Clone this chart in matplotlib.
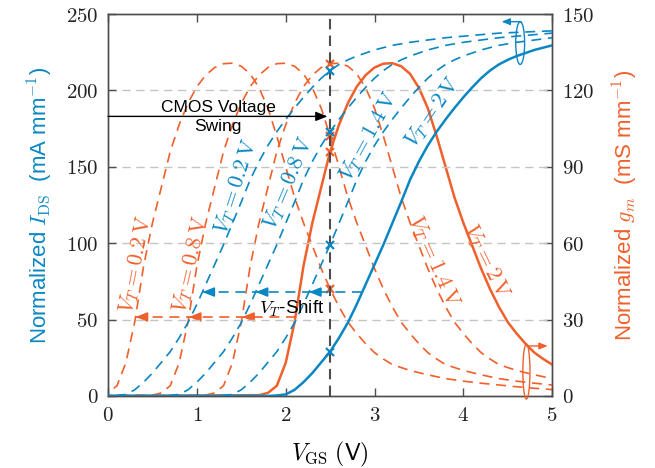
import numpy as np
import matplotlib
matplotlib.use("Agg")
import matplotlib.pyplot as plt
from matplotlib.patches import Ellipse

plt.rcParams['font.family'] = ['Liberation Sans', 'DejaVu Sans']
plt.rcParams['mathtext.fontset'] = 'cm'

BLUE = '#0A87C2'
ORANGE = '#F0602B'
GREY = '#4d4d4d'

# normalized device curves versus gate overdrive V_GS - V_T (V)
v_ov = [-2.0, -0.3, -0.2, -0.1, 0.0, 0.1, 0.2, 0.3, 0.4, 0.5, 0.6, 0.7, 0.8, 0.9,
        1.0, 1.1, 1.2, 1.3, 1.4, 1.5, 1.6, 1.7, 1.8, 1.9, 2.0, 2.1, 2.2, 2.3, 2.4,
        2.5, 2.6, 2.7, 2.8, 2.9, 3.0, 3.2, 3.4, 3.6, 3.8, 4.0, 4.2, 4.4, 4.6, 4.8]
i_ds = [0, 0, 0, 0.3, 1, 4, 9, 15, 22, 29, 38, 48, 60, 73,
        86, 99, 113, 127, 141.5, 153.5, 164, 173, 181, 188.5, 195.5, 202, 208, 213, 217,
        220, 222.5, 224.5, 226.5, 228, 229.5, 231.5, 233, 234.5, 235.5, 236.5, 237.5, 238, 238.5, 239]
g_m = [0, 0.3, 1.2, 4, 13, 29, 51, 68, 82, 96, 106.5, 115, 121.5, 126,
       129, 130.5, 130.7, 129.5, 126.5, 121, 113, 102, 90, 78, 68, 59, 50, 42, 35,
       29, 24.5, 20.5, 17, 14.5, 12.3, 10, 8.3, 6.8, 5.8, 5, 4.3, 3.6, 3, 2.5]

v_t = [0.2, 0.8, 1.4, 2.0]
v_swing = 2.5          # CMOS supply voltage
i_shift_level = 68     # mA/mm, level of the V_T-shift arrows on I_DS
gm_shift_level = 31    # mS/mm, level of the V_T-shift arrows on g_m

v_ov = np.array(v_ov)
i_ds = np.array(i_ds)
g_m = np.array(g_m)

fig = plt.figure(figsize=(6.55, 4.68), dpi=100)
ax = fig.add_axes([0.165, 0.154, 0.678, 0.816])
ax2 = ax.twinx()

dash = (0, (6, 4))
for vt in v_t:
    solid = vt == 2.0
    ax.plot(vt + v_ov, i_ds, color=BLUE, lw=1.8 if solid else 1.2,
            ls='-' if solid else dash, zorder=3)
    ax2.plot(vt + v_ov, g_m, color=ORANGE, lw=1.8 if solid else 1.2,
             ls='-' if solid else dash, zorder=3)
    # operating point at the CMOS supply voltage
    ax.plot(v_swing, np.interp(v_swing - vt, v_ov, i_ds), 'x', color=BLUE,
            ms=6, mew=1.6, zorder=5)
    ax2.plot(v_swing, np.interp(v_swing - vt, v_ov, g_m), 'x', color=ORANGE,
             ms=6, mew=1.6, zorder=5)

ax.set_xlim(0, 5)
ax.set_ylim(0, 250)
ax2.set_ylim(0, 150)

ax.axvline(v_swing, color=GREY, ls=(0, (5, 3)), lw=1.5, zorder=4)

# horizontal grid
for y in [50, 100, 150, 200]:
    ax.axhline(y, color='#c4c4c4', ls=(0, (6, 4)), lw=1.0, zorder=1)


# V_T-shift arrows: start where the V_T = 2 V curve crosses the level
def shift_arrows(axis, curve, level, color):
    rising = (v_ov > -1) & (v_ov <= v_ov[np.argmax(curve)])
    x_cross = [vt + np.interp(level, curve[rising], v_ov[rising]) for vt in v_t]
    axis.plot([min(x_cross), max(x_cross)], [level, level], color=color,
              ls=(0, (6, 4)), lw=1.2, zorder=4)
    for x in x_cross[:-1]:
        axis.annotate('', xy=(x, level), xytext=(x + 0.12, level),
                      arrowprops=dict(arrowstyle='-|>,head_length=0.7,head_width=0.28',
                                      color=color, lw=1.2, shrinkA=0, shrinkB=0),
                      zorder=4)


shift_arrows(ax, i_ds, i_shift_level, BLUE)
shift_arrows(ax2, g_m, gm_shift_level, ORANGE)
ax.text(2.07, 57, r'$V_T$-Shift', fontsize=13.5, ha='center', va='center', zorder=6)

# CMOS voltage swing
ax.annotate('', xy=(v_swing - 0.03, 183), xytext=(0, 183),
            arrowprops=dict(arrowstyle='-|>,head_length=0.7,head_width=0.28',
                            color='black', lw=1.0, shrinkA=0, shrinkB=0), zorder=6)
ax.text(1.24, 184, 'CMOS Voltage', fontsize=12.5, ha='center', va='bottom', zorder=6)
ax.text(1.24, 181, 'Swing', fontsize=12.5, ha='center', va='top', zorder=6)

# curve labels
blue_labels = [(1.44, 137, 72, '0.2'), (2.03, 139, 67, '0.8'),
               (2.94, 170, 61, '1.4'), (3.66, 186, 55, '2')]
for x, y, rot, txt in blue_labels:
    ax.text(x, y, r'$V_T = %s\,\mathrm{V}$' % txt, color=BLUE, fontsize=16,
            rotation=rot, ha='center', va='center', rotation_mode='anchor')
orange_labels = [(0.32, 86, 79, '0.2'), (0.93, 86, 77, '0.8'),
                 (3.66, 88, -66, '1.4'), (4.26, 88, -64, '2')]
for x, y, rot, txt in orange_labels:
    ax.text(x, y, r'$V_T = %s\,\mathrm{V}$' % txt, color=ORANGE, fontsize=16,
            rotation=rot, ha='center', va='center', rotation_mode='anchor')

# axis indicators
ax.add_patch(Ellipse((4.64, 231), 0.1, 28, fill=False, ec=BLUE, lw=1.0, zorder=6))
ax.annotate('', xy=(4.43, 245), xytext=(4.65, 245),
            arrowprops=dict(arrowstyle='-|>,head_length=0.5,head_width=0.2',
                            color=BLUE, lw=1.0, shrinkA=0, shrinkB=0), zorder=6)
ax.add_patch(Ellipse((4.71, 16), 0.08, 36, fill=False, ec=ORANGE, lw=1.0,
                     zorder=6, clip_on=False))
ax.annotate('', xy=(4.95, 32.7), xytext=(4.72, 32.7),
            arrowprops=dict(arrowstyle='-|>,head_length=0.5,head_width=0.2',
                            color=ORANGE, lw=1.0, shrinkA=0, shrinkB=0), zorder=6)

# ticks and labels
xt = [0, 1, 2, 3, 4, 5]
ax.set_xticks(xt, ['$%d$' % t for t in xt])
yt = [0, 50, 100, 150, 200, 250]
ax.set_yticks(yt, ['$%d$' % t for t in yt])
yt2 = [0, 30, 60, 90, 120, 150]
ax2.set_yticks(yt2, ['$%d$' % t for t in yt2])
ax.tick_params(axis='both', direction='in', length=6, width=1, color=GREY,
               labelsize=15, labelcolor='#222222', pad=7, top=True)
ax.tick_params(axis='y', right=False)
ax2.tick_params(axis='y', direction='in', length=6, width=1, color=GREY,
                labelsize=15, labelcolor='#222222', pad=7)
for a in (ax, ax2):
    for s in a.spines.values():
        s.set_color(GREY)
        s.set_linewidth(1.0)

ax.set_xlabel(r'$V_{\rm GS}$ $(\mathsf{V})$', fontsize=17, labelpad=11)
ax.set_ylabel(r'Normalized $I_{\rm DS}$  (mA mm$^{-1}$)', fontsize=16,
              color=BLUE, labelpad=8)
ax2.set_ylabel(r'Normalized $g_m$  (mS mm$^{-1}$)', fontsize=16,
               color=ORANGE, labelpad=12)

ax.set_zorder(ax2.get_zorder() + 1)
ax.patch.set_visible(False)

plt.savefig('out.png', dpi=100)
